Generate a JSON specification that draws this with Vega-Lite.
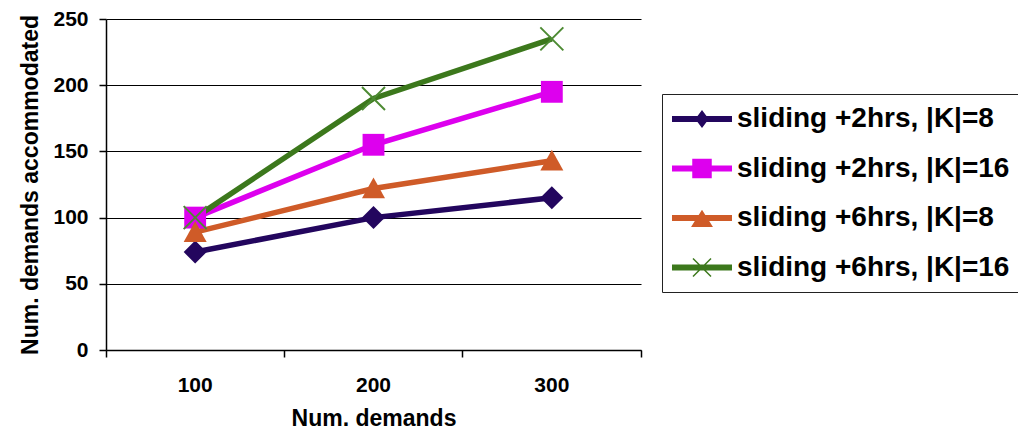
{
  "$schema": "https://vega.github.io/schema/vega-lite/v6.json",
  "width": 535,
  "height": 331,
  "autosize": {"type": "none"},
  "padding": {"left": 106, "top": 19, "right": 377, "bottom": 84},
  "background": "white",
  "config": {"view": {"stroke": null}, "font": "Liberation Sans"},
  "data": {
    "values": [
      {"series": "sliding +2hrs, |K|=8", "demands": 100, "value": 74},
      {"series": "sliding +2hrs, |K|=8", "demands": 200, "value": 100},
      {"series": "sliding +2hrs, |K|=8", "demands": 300, "value": 115},
      {"series": "sliding +2hrs, |K|=16", "demands": 100, "value": 100},
      {"series": "sliding +2hrs, |K|=16", "demands": 200, "value": 155},
      {"series": "sliding +2hrs, |K|=16", "demands": 300, "value": 195},
      {"series": "sliding +6hrs, |K|=8", "demands": 100, "value": 89},
      {"series": "sliding +6hrs, |K|=8", "demands": 200, "value": 122},
      {"series": "sliding +6hrs, |K|=8", "demands": 300, "value": 143},
      {"series": "sliding +6hrs, |K|=16", "demands": 100, "value": 100},
      {"series": "sliding +6hrs, |K|=16", "demands": 200, "value": 190},
      {"series": "sliding +6hrs, |K|=16", "demands": 300, "value": 235}
    ]
  },
  "encoding": {
    "x": {
      "field": "demands",
      "type": "ordinal",
      "sort": [100, 200, 300],
      "scale": {"type": "band", "paddingInner": 0, "paddingOuter": 0},
      "axis": {
        "title": "Num. demands",
        "titleFontSize": 23,
        "titleFontWeight": "bold",
        "titleColor": "#000",
        "titlePadding": 12,
        "labelFontSize": 21,
        "labelFontWeight": "bold",
        "labelColor": "#000",
        "labelAngle": 0,
        "labelPadding": 17,
        "bandPosition": 1,
        "tickExtra": true,
        "tickSize": 7,
        "tickColor": "#000",
        "tickWidth": 1.5,
        "domainColor": "#000",
        "domainWidth": 1.5,
        "grid": false
      }
    },
    "y": {
      "field": "value",
      "type": "quantitative",
      "scale": {"domain": [0, 250], "nice": false},
      "axis": {
        "title": "Num. demands accommodated",
        "titleFontSize": 23,
        "titleFontWeight": "bold",
        "titleColor": "#000",
        "titlePadding": 10,
        "values": [0, 50, 100, 150, 200, 250],
        "labelFontSize": 21,
        "labelFontWeight": "bold",
        "labelColor": "#000",
        "labelPadding": 11,
        "tickSize": 7,
        "tickColor": "#000",
        "tickWidth": 1.5,
        "domainColor": "#000",
        "domainWidth": 1.5,
        "grid": true,
        "gridColor": "#000",
        "gridWidth": 1.2
      }
    }
  },
  "layer": [
    {
      "mark": {"type": "line", "strokeWidth": 5.5},
      "encoding": {
        "color": {
          "field": "series",
          "type": "nominal",
          "scale": {
            "domain": ["sliding +2hrs, |K|=8", "sliding +2hrs, |K|=16", "sliding +6hrs, |K|=8", "sliding +6hrs, |K|=16"],
            "range": ["#23065E", "#DD00EE", "#CF5B28", "#3C781C"]
          },
          "legend": null
        }
      }
    },
    {
      "mark": {"type": "point", "filled": true, "size": 529, "opacity": 1, "strokeWidth": 0},
      "encoding": {
        "color": {
          "field": "series",
          "type": "nominal",
          "scale": {
            "domain": ["sliding +2hrs, |K|=8", "sliding +2hrs, |K|=16", "sliding +6hrs, |K|=8", "sliding +6hrs, |K|=16"],
            "range": ["#23065E", "#DD00EE", "#CF5B28", "#4C8A32"]
          },
          "legend": null
        },
        "shape": {
          "field": "series",
          "type": "nominal",
          "scale": {
            "domain": ["sliding +2hrs, |K|=8", "sliding +2hrs, |K|=16", "sliding +6hrs, |K|=8", "sliding +6hrs, |K|=16"],
            "range": [
              "M0,-1L1,0L0,1L-1,0Z",
              "M-0.95,-0.95H0.95V0.95H-0.95Z",
              "M0,-0.95L1,0.85H-1Z",
              "M-0.94,-1.06L1.06,0.94L0.94,1.06L-1.06,-0.94Z M-1.06,0.94L0.94,-1.06L1.06,-0.94L-0.94,1.06Z"
            ]
          },
          "legend": null
        }
      }
    },
    {
      "mark": {"type": "point", "filled": true, "size": 900, "opacity": 0, "strokeWidth": 0},
      "encoding": {
        "color": {
          "field": "series",
          "type": "nominal",
          "scale": {
            "domain": ["sliding +2hrs, |K|=8", "sliding +2hrs, |K|=16", "sliding +6hrs, |K|=8", "sliding +6hrs, |K|=16"],
            "range": ["#23065E", "#DD00EE", "#CF5B28", "#3C781C"]
          },
          "legend": {
            "title": null,
            "orient": "none",
            "legendX": 556,
            "legendY": 75,
            "padding": 10,
            "strokeColor": "#222",
            "fillColor": "white",
            "labelFontSize": 28,
            "labelFontWeight": "bold",
            "labelColor": "#000",
            "labelFont": "Liberation Sans",
            "labelLimit": 400,
            "labelOffset": 20,
            "symbolOffset": 15,
            "symbolSize": 900,
            "symbolStrokeWidth": 0,
            "symbolOpacity": 1,
            "rowPadding": 20.5
          }
        },
        "shape": {
          "field": "series",
          "type": "nominal",
          "scale": {
            "domain": ["sliding +2hrs, |K|=8", "sliding +2hrs, |K|=16", "sliding +6hrs, |K|=8", "sliding +6hrs, |K|=16"],
            "range": [
              "M-2,-0.2H-0.3L0,-0.6L0.3,-0.2H2V0.2H0.3L0,0.6L-0.3,0.2H-2Z",
              "M-2,-0.2H-0.65V-0.65H0.65V-0.2H2V0.2H0.65V0.65H-0.65V0.2H-2Z",
              "M-2,-0.2H-0.22L0,-0.55L0.22,-0.2H2V0.2H0.48L0.73,0.6H-0.73L-0.48,0.2H-2Z",
              "M-2,-0.2H2V0.2H-2Z M-0.565,-0.635L0.635,0.565L0.565,0.635L-0.635,-0.565Z M-0.635,0.565L0.565,-0.635L0.635,-0.565L-0.565,0.635Z"
            ]
          },
          "legend": {
            "title": null,
            "orient": "none",
            "legendX": 556,
            "legendY": 75,
            "padding": 10,
            "strokeColor": "#222",
            "fillColor": "white",
            "labelFontSize": 28,
            "labelFontWeight": "bold",
            "labelColor": "#000",
            "labelFont": "Liberation Sans",
            "labelLimit": 400,
            "labelOffset": 20,
            "symbolOffset": 15,
            "symbolSize": 900,
            "symbolStrokeWidth": 0,
            "symbolOpacity": 1,
            "rowPadding": 20.5
          }
        }
      }
    }
  ],
  "resolve": {"scale": {"shape": "independent", "color": "independent"}}
}
